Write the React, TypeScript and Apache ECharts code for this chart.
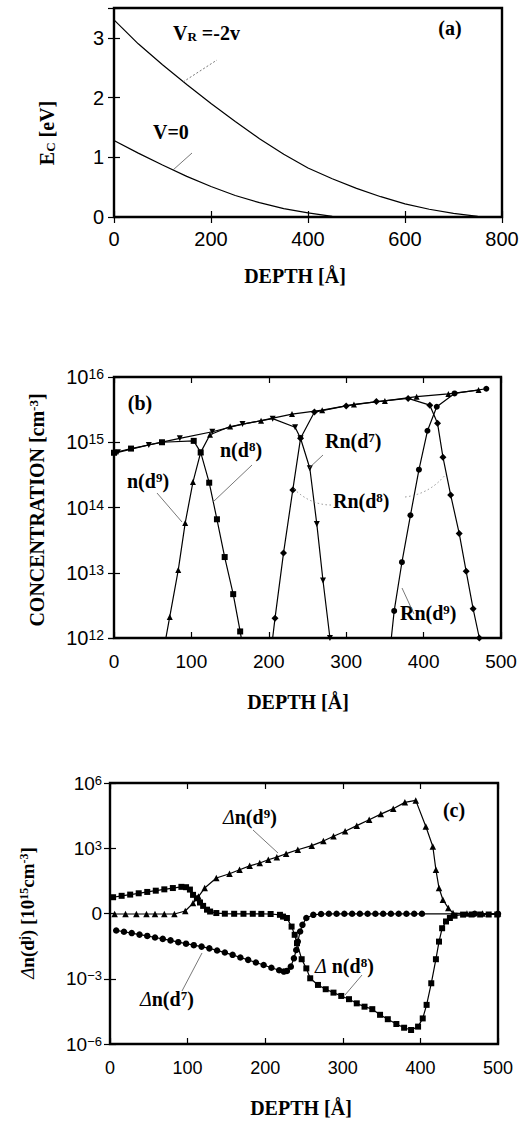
import React, { useEffect, useRef } from "react";
import * as echarts from "echarts";

// ---------- Panel (a): conduction band edge ----------
const ecVR: [number, number][] = [[0,3.30],[50,2.90],[100,2.55],[150,2.22],[200,1.90],[250,1.60],[300,1.31],[350,1.05],[400,0.82],[450,0.64],[500,0.48],[550,0.34],[600,0.22],[650,0.13],[700,0.06],[750,0.01],[770,0]];
const ecV0: [number, number][] = [[0,1.28],[50,1.07],[100,0.87],[150,0.68],[200,0.51],[250,0.36],[300,0.24],[350,0.14],[400,0.07],[450,0.01],[470,0]];
const ticksA = { xMax: 800, xStep: 200, yMax: 3.5, yStep: 1 };

// ---------- Panel (b): concentrations ----------
const nD9: [number, number][] = [[60,3.5e11],[72,2.1e12],[83,1.1e13],[92,5.8e13],[102,2.45e14],[112,7.0e14],[124,1.3e15],[150,1.74e15],[190,2.14e15],[230,2.7e15],[269,3.1e15],[310,3.8e15],[350,4.3e15],[391,5.0e15],[432,5.5e15],[471,6.3e15]];
const nD8: [number, number][] = [[0,6.9e14],[22,8.0e14],[62,1.0e15],[103,1.05e15],[112,7.0e14],[123,2.4e14],[133,6.6e13],[143,1.74e13],[154,4.7e12],[163,1.26e12],[172,3e11]];
const rnD7: [number, number][] = [[5,7.0e14],[45,9.1e14],[85,1.15e15],[127,1.45e15],[166,1.9e15],[205,2.3e15],[234,1.7e15],[241,1.15e15],[253,4.0e14],[262,5.6e13],[270,7.6e12],[279,1.0e12],[286,2e11]];
const rnD8: [number, number][] = [[198,2e11],[208,2.0e12],[219,2.0e13],[231,1.86e14],[241,1.15e15],[259,2.9e15],[300,3.6e15],[339,4.2e15],[380,4.7e15],[408,3.7e15],[418,1.95e15],[425,5.9e14],[435,1.55e14],[446,4.0e13],[455,1.05e13],[464,2.8e12],[472,1.0e12],[477,3e11]];
const rnD9: [number, number][] = [[352,2e11],[362,2.6e12],[372,1.45e13],[383,7.6e13],[394,3.8e14],[405,1.5e15],[417,3.5e15],[440,5.6e15],[481,6.6e15]];

// ---------- Panel (c): differences ----------
const dnD9: [number, number][] = [[6,0.95],[20,0.95],[34,0.95],[47,0.95],[58,0.95],[70,0.95],[83,0.95],[97,1.3],[107,3.0],[114,6.0],[122,14.8],[137,42.7],[154,67.6],[167,102],[180,155],[193,209],[204,295],[215,389],[227,562],[242,851],[260,1318],[275,2138],[288,3548],[303,6026],[318,10965],[334,20417],[349,37154],[365,66069],[380,128825],[394,158489],[407,10000],[416,1202],[420,102],[424,14.8],[429,4.27],[436,1.78],[442,1.05],[460,1.0],[480,1.0],[500,1.0]];
const dnD8: [number, number][] = [[4,5.6],[15,6.5],[26,7.4],[37,8.5],[48,9.8],[59,11.2],[70,12.9],[81,14.8],[92,16.8],[98,16.2],[103,12.6],[107,7.2],[112,5.0],[116,3.2],[120,2.24],[125,1.5],[129,1.23],[137,1.05],[148,0.98],[160,0.97],[172,0.97],[184,0.97],[195,0.96],[207,0.95],[219,0.87],[223,0.72],[228,0.62],[234,0.25],[238,0.105],[241,0.043],[247,0.0079],[253,0.003],[258,0.00105],[268,5.2e-4],[278,3.3e-4],[288,2.3e-4],[298,1.62e-4],[308,1.15e-4],[318,7.4e-5],[328,5.2e-5],[338,4.0e-5],[348,2.2e-5],[358,1.38e-5],[369,8.3e-6],[379,5.6e-6],[388,4.4e-6],[397,6.3e-6],[403,1.5e-5],[408,6.3e-5],[414,6.2e-4],[420,7.9e-3],[424,0.051],[428,0.21],[433,0.43],[438,0.62],[444,0.79],[455,0.89],[466,0.9],[477,0.9],[488,0.9],[499,0.9]];
const dnD7: [number, number][] = [[8,0.166],[18,0.145],[28,0.126],[38,0.107],[48,0.093],[58,0.079],[68,0.068],[78,0.058],[88,0.048],[98,0.041],[108,0.035],[118,0.030],[128,0.025],[138,0.020],[148,0.016],[158,0.0126],[168,0.0095],[178,0.0074],[188,0.0056],[198,0.0043],[208,0.0032],[218,0.00245],[224,0.00214],[228,0.00229],[233,0.0036],[237,0.0087],[240,0.021],[242,0.051],[245,0.148],[248,0.30],[253,0.62],[262,0.87],[272,0.95],[282,0.97],[292,0.97],[302,0.97],[312,0.97],[322,0.97],[332,0.97],[342,0.97],[352,0.97],[362,0.97],[372,0.97],[382,0.97],[392,0.97],[402,0.97],[470,0.97],[500,0.97]];

const SANS = '"Liberation Sans", Arial, Helvetica, sans-serif';
const SERIF = '"Liberation Serif", "Times New Roman", serif';
const BLACK = "#000";

const tick = { show: true, inside: true, length: 6, lineStyle: { color: BLACK, width: 1.2 } };
const noLine = { show: false };

function xAxes(grid: number, max: number, step: number, fontSize: number, margin: number) {
  return [
    { gridIndex: grid, type: "value", min: 0, max, interval: step, position: "bottom",
      axisLine: noLine, axisTick: tick, splitLine: noLine,
      axisLabel: { color: BLACK, fontFamily: SANS, fontSize, margin } },
    { gridIndex: grid, type: "value", min: 0, max, interval: step, position: "top",
      axisLine: noLine, axisTick: tick, splitLine: noLine, axisLabel: { show: false } },
  ];
}

function supLabel(v: number) {
  const e = Math.round(Math.log10(v));
  if (e === 0) return "{b|0}";
  return "{b|10}{s|" + (e < 0 ? "\u2212" + -e : String(e)) + "}";
}

function logY(grid: number, min: number, max: number, base: number, fontSize: number, margin: number) {
  const rich = {
    b: { fontFamily: SANS, fontSize, color: BLACK },
    s: { fontFamily: SANS, fontSize: Math.round(fontSize * 0.7), color: BLACK, verticalAlign: "top" },
  };
  return [
    { gridIndex: grid, type: "log", logBase: base, min, max, position: "left",
      axisLine: noLine, axisTick: tick, splitLine: noLine, minorTick: { show: false },
      axisLabel: { formatter: supLabel, rich, margin, color: BLACK } },
    { gridIndex: grid, type: "log", logBase: base, min, max, position: "right",
      axisLine: noLine, axisTick: tick, splitLine: noLine, axisLabel: { show: false } },
  ];
}

function lineSeries(x: number, y: number, data: [number, number][], symbol: string, size: number, rotate = 0) {
  return {
    type: "line", xAxisIndex: x, yAxisIndex: y, data,
    symbol, symbolSize: size, symbolRotate: rotate, showSymbol: symbol !== "none", showAllSymbol: true,
    lineStyle: { color: BLACK, width: 1.2 }, itemStyle: { color: BLACK },
    silent: true, clip: true, z: 3,
  };
}

const labelRich = (fs = 20) => ({
  t: { fontFamily: SERIF, fontWeight: "bold", fontSize: fs, fill: BLACK, color: BLACK },
  i: { fontFamily: SERIF, fontStyle: "italic", fontWeight: "normal", fontSize: fs, fill: BLACK, color: BLACK },
  sup: { fontFamily: SERIF, fontWeight: "bold", fontSize: Math.round(fs * 0.65), fill: BLACK, color: BLACK, verticalAlign: "top" },
  sub: { fontFamily: SERIF, fontWeight: "bold", fontSize: Math.round(fs * 0.65), fill: BLACK, color: BLACK, verticalAlign: "bottom" },
});

function txt(x: number, y: number, text: string, align = "left", rotation = 0, fs = 20) {
  return {
    type: "text", x, y, rotation, z: 100,
    style: { text, rich: labelRich(fs), fontFamily: SERIF, fontWeight: "bold", fontSize: fs, fill: BLACK,
      align, verticalAlign: "middle" },
  };
}

function lead(x1: number, y1: number, x2: number, y2: number, dash = false) {
  return { type: "line", z: 100, shape: { x1, y1, x2, y2 },
    style: { stroke: "#555", lineWidth: 0.8, lineDash: dash ? [2, 2] : null } };
}

function curve(x1: number, y1: number, cx: number, cy: number, x2: number, y2: number) {
  return { type: "bezierCurve", z: 100, shape: { x1, y1, cpx1: cx, cpy1: cy, x2, y2 },
    style: { stroke: "#777", lineWidth: 0.8, lineDash: [1.5, 2.5], fill: null } };
}

const option: any = {
  animation: false,
  backgroundColor: "#fff",
  grid: [
    { left: 114, top: 8, width: 388, height: 209, show: true, borderColor: BLACK, borderWidth: 2.4, backgroundColor: "transparent" },
    { left: 114, top: 377, width: 387, height: 261, show: true, borderColor: BLACK, borderWidth: 2.4, backgroundColor: "transparent" },
    { left: 110, top: 783, width: 388, height: 261, show: true, borderColor: BLACK, borderWidth: 2.4, backgroundColor: "transparent" },
  ],
  xAxis: [
    ...xAxes(0, ticksA.xMax, ticksA.xStep, 20, 12),
    ...xAxes(1, 500, 100, 19, 14),
    ...xAxes(2, 500, 100, 18, 15),
  ],
  yAxis: [
    { gridIndex: 0, type: "value", min: 0, max: ticksA.yMax, interval: ticksA.yStep, position: "left",
      axisLine: noLine, axisTick: tick, splitLine: noLine,
      axisLabel: { color: BLACK, fontFamily: SANS, fontSize: 20, margin: 10,
        formatter: (v: number) => (Number.isInteger(v) ? String(v) : "") } },
    { gridIndex: 0, type: "value", min: 0, max: ticksA.yMax, interval: ticksA.yStep, position: "right",
      axisLine: noLine, axisTick: tick, splitLine: noLine, axisLabel: { show: false } },
    ...logY(1, 1e12, 1e16, 10, 20, 10),
    ...logY(2, 1e-6, 1e6, 1000, 19, 8),
  ],
  series: [
    lineSeries(0, 0, ecVR, "none", 0),
    lineSeries(0, 0, ecV0, "none", 0),

    lineSeries(2, 2, nD9, "triangle", 6),
    lineSeries(2, 2, nD8, "rect", 6),
    lineSeries(2, 2, rnD7, "triangle", 6, 180),
    lineSeries(2, 2, rnD8, "diamond", 7),
    lineSeries(2, 2, rnD9, "circle", 6),

    lineSeries(4, 4, dnD9, "triangle", 6.5),
    lineSeries(4, 4, dnD8, "rect", 6),
    lineSeries(4, 4, dnD7, "circle", 6.5),
  ],
  graphic: [
    // panel (a)
    txt(450, 28, "{t|(a)}", "center"),
    txt(173, 33, "{t|V}{sub|R}{t| =-2v}"),
    txt(153, 132, "{t|V=0}"),
    lead(183, 82, 217, 60, true),
    lead(173, 170, 192, 153),
    txt(295, 276, "{t|DEPTH [Å]}", "center"),
    txt(47, 133, "{t|E}{sub|C}{t| [eV]}", "center", Math.PI / 2),

    // panel (b)
    txt(140, 403, "{t|(b)}", "center"),
    txt(220, 450, "{t|n(d}{sup|8}{t|)}"),
    txt(127, 481, "{t|n(d}{sup|9}{t|)}"),
    txt(325, 441, "{t|Rn(d}{sup|7}{t|)}"),
    txt(333, 501, "{t|Rn(d}{sup|8}{t|)}"),
    txt(400, 613, "{t|Rn(d}{sup|9}{t|)}"),
    lead(157, 493, 182, 522),
    lead(252, 465, 213, 502),
    lead(323, 455, 308, 469),
    curve(331, 505, 310, 505, 293, 488),
    curve(405, 497, 430, 494, 446, 474),
    lead(414, 614, 402, 588),
    txt(298, 702, "{t|DEPTH [Å]}", "center"),
    txt(37, 510, "{t|CONCENTRATION [cm}{sup|-3}{t|]}", "center", Math.PI / 2),

    // panel (c)
    txt(454, 810, "{t|(c)}", "center"),
    txt(223, 817, "{i|Δ}{t|n(d}{sup|9}{t|)}"),
    txt(315, 966, "{i|Δ}{t| n(d}{sup|8}{t|)}"),
    txt(140, 999, "{i|Δ}{t|n(d}{sup|7}{t|)}"),
    lead(253, 830, 278, 853),
    lead(362, 975, 345, 995),
    lead(182, 991, 202, 953),
    txt(301, 1108, "{t|DEPTH [Å]}", "center"),
    txt(27, 913, "{i|Δ}{t|n(d}{sup|j}{t|) [10}{sup|15}{t|cm}{sup|-3}{t|]}", "center", Math.PI / 2, 19),
  ],
};

export default function App() {
  const ref = useRef<HTMLDivElement>(null);
  useEffect(() => {
    if (!ref.current) return;
    const chart = echarts.init(ref.current, null, { renderer: "svg" });
    chart.setOption(option);
    return () => chart.dispose();
  }, []);
  return (
    <div
      ref={ref}
      style={{ position: "absolute", left: 0, top: 0, width: 528, height: 1124, background: "#fff" }}
    />
  );
}
